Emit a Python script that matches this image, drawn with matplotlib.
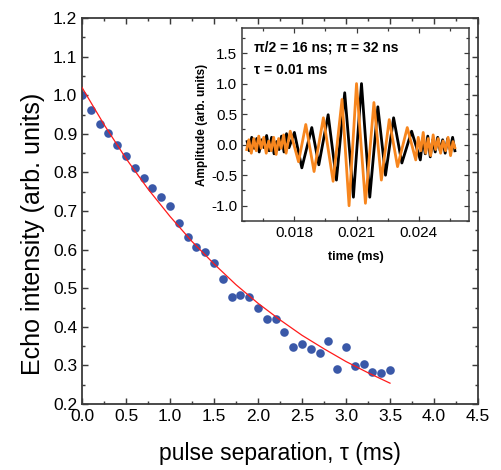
import numpy as np
import matplotlib
matplotlib.use("Agg")
import matplotlib.pyplot as plt
from matplotlib.ticker import MultipleLocator

plt.rcParams['font.family'] = ['Liberation Sans', 'DejaVu Sans']

# echo decay data
tau_ms = [0.0, 0.1, 0.2, 0.3, 0.4, 0.5, 0.6, 0.7, 0.8, 0.9, 1.0, 1.1, 1.2,
          1.3, 1.4, 1.5, 1.6, 1.7, 1.8, 1.9, 2.0, 2.1, 2.2, 2.3, 2.4, 2.5,
          2.6, 2.7, 2.8, 2.9, 3.0, 3.1, 3.2, 3.3, 3.4, 3.5]
echo = [1.000, 0.962, 0.925, 0.901, 0.872, 0.842, 0.811, 0.786, 0.759,
        0.735, 0.713, 0.668, 0.633, 0.606, 0.595, 0.566, 0.523, 0.478,
        0.482, 0.478, 0.450, 0.421, 0.419, 0.387, 0.347, 0.355, 0.342,
        0.333, 0.364, 0.291, 0.348, 0.299, 0.303, 0.282, 0.280, 0.288]

# red fit line
fit_x = [0.0, 0.25, 0.5, 0.75, 1.0, 1.25, 1.5, 1.75, 2.0, 2.25, 2.5, 2.75,
         3.0, 3.25, 3.5]
fit_y = [1.020, 0.924, 0.836, 0.757, 0.686, 0.621, 0.563, 0.509, 0.461,
         0.418, 0.378, 0.343, 0.310, 0.281, 0.254]

# inset echo traces: time (ms), amplitude
black_t = [0.01572, 0.01582, 0.01594, 0.01606, 0.01618, 0.01630, 0.01642,
           0.01654, 0.01666, 0.01678, 0.01690, 0.01702, 0.01714, 0.01726,
           0.01738, 0.01750, 0.01762, 0.01774,
           0.01800, 0.01836, 0.01884, 0.01918, 0.01963, 0.02003, 0.02043,
           0.02085, 0.02124, 0.02164, 0.02203, 0.02240, 0.02279, 0.02319,
           0.02366, 0.02408,
           0.02420, 0.02432, 0.02444, 0.02456, 0.02468, 0.02480, 0.02492,
           0.02504, 0.02516, 0.02528, 0.02540, 0.02552, 0.02564, 0.02575]
black_a = [0.05, -0.10, 0.12, -0.06, 0.10, -0.12, 0.08,
           -0.05, 0.15, -0.10, 0.12, -0.15, 0.05, -0.08,
           0.14, -0.12, 0.18, -0.05,
           0.20, -0.38, 0.28, -0.33, 0.49, -0.58, 0.85,
           -0.86, 1.00, -0.86, 0.62, -0.50, 0.44, -0.30,
           0.22, -0.25,
           0.10, -0.15, 0.14, -0.20, 0.08, -0.12, 0.12,
           -0.10, 0.08, -0.14, 0.10, -0.08, 0.12, -0.10]

orange_t = [0.01570, 0.01580, 0.01592, 0.01604, 0.01616, 0.01628, 0.01640,
            0.01652, 0.01664, 0.01676, 0.01688, 0.01700, 0.01712, 0.01724,
            0.01736, 0.01748, 0.01760, 0.01770,
            0.01780, 0.01820, 0.01855, 0.01895, 0.01940, 0.01987, 0.02030,
            0.02064, 0.02100, 0.02143, 0.02184, 0.02220, 0.02258, 0.02298,
            0.02345, 0.02386,
            0.02398, 0.02410, 0.02422, 0.02434, 0.02446, 0.02458, 0.02470,
            0.02482, 0.02494, 0.02506, 0.02518, 0.02530, 0.02542, 0.02554,
            0.02566, 0.02575]
orange_a = [-0.08, 0.08, -0.14, 0.10, -0.10, 0.14, -0.06,
            0.12, -0.14, 0.06, -0.10, 0.12, -0.16, 0.10,
            -0.06, 0.16, -0.14, 0.05,
            0.22, -0.28, 0.33, -0.44, 0.44, -0.60, 0.74,
            -1.00, 1.00, -0.96, 0.69, -0.58, 0.41, -0.36,
            0.28, -0.25,
            0.12, -0.10, 0.20, -0.14, 0.10, -0.18, 0.16,
            -0.08, 0.10, -0.14, 0.06, -0.10, 0.12, -0.18,
            0.05, -0.05]

spine_col = '#3a3a3a'


def style_axes(ax, lw, major_len, minor_len, labelsize):
    for sp in ax.spines.values():
        sp.set_color(spine_col)
        sp.set_linewidth(lw)
    ax.tick_params(which='both', direction='in', top=True, right=True,
                   color=spine_col, width=lw * 0.8, labelsize=labelsize)
    ax.tick_params(which='major', length=major_len)
    ax.tick_params(which='minor', length=minor_len)


fig = plt.figure(figsize=(5.01, 4.70), dpi=100)
ax = fig.add_axes([0.1637, 0.1404, 0.7904, 0.8213])

ax.plot(tau_ms, echo, 'o', ms=6.2, color='#3a58a8', mec='none', zorder=2)
ax.plot(fit_x, fit_y, '-', color='#ff1a1a', lw=0.9, zorder=3)

ax.set_xlim(0, 4.5)
ax.set_ylim(0.2, 1.2)
ax.xaxis.set_major_locator(MultipleLocator(0.5))
ax.xaxis.set_minor_locator(MultipleLocator(0.25))
ax.yaxis.set_major_locator(MultipleLocator(0.1))
ax.yaxis.set_minor_locator(MultipleLocator(0.05))
ax.xaxis.set_major_formatter(matplotlib.ticker.FormatStrFormatter('%.1f'))
ax.yaxis.set_major_formatter(matplotlib.ticker.FormatStrFormatter('%.1f'))
style_axes(ax, 1.3, 4.0, 2.2, 12.5)
ax.set_xlabel('pulse separation, \u03c4 (ms)', fontsize=16.5, labelpad=13)
ax.set_ylabel('Echo intensity (arb. units)', fontsize=18)
ax.yaxis.set_label_coords(-0.094, 0.44)

# inset
ins = fig.add_axes([0.483, 0.5298, 0.4531, 0.4106])
ins.plot(black_t, black_a, '-', color='black', lw=2.0)
ins.plot(orange_t, orange_a, '-', color='#f7861e', lw=2.0)
ins.set_xlim(0.01547, 0.02643)
ins.set_ylim(-1.25, 1.91)
ins.xaxis.set_major_locator(MultipleLocator(0.003))
ins.xaxis.set_minor_locator(MultipleLocator(0.0015))
ins.yaxis.set_major_locator(MultipleLocator(0.5))
ins.yaxis.set_minor_locator(MultipleLocator(0.25))
ins.xaxis.set_major_formatter(matplotlib.ticker.FormatStrFormatter('%.3f'))
ins.yaxis.set_major_formatter(matplotlib.ticker.FormatStrFormatter('%.1f'))
style_axes(ins, 1.1, 3.5, 2.0, 11)
ins.set_xlabel('time (ms)', fontsize=9, fontweight='bold', labelpad=8)
ins.set_ylabel('Amplitude (arb. units)', fontsize=8.5, fontweight='bold',
               labelpad=2)
ins.text(0.055, 0.90, '\u03c0/2 = 16 ns; \u03c0 = 32 ns', transform=ins.transAxes,
         fontsize=10, fontweight='bold', va='center')
ins.text(0.055, 0.785, '\u03c4 = 0.01 ms', transform=ins.transAxes,
         fontsize=10, fontweight='bold', va='center')

fig.savefig('out.png', dpi=100)
